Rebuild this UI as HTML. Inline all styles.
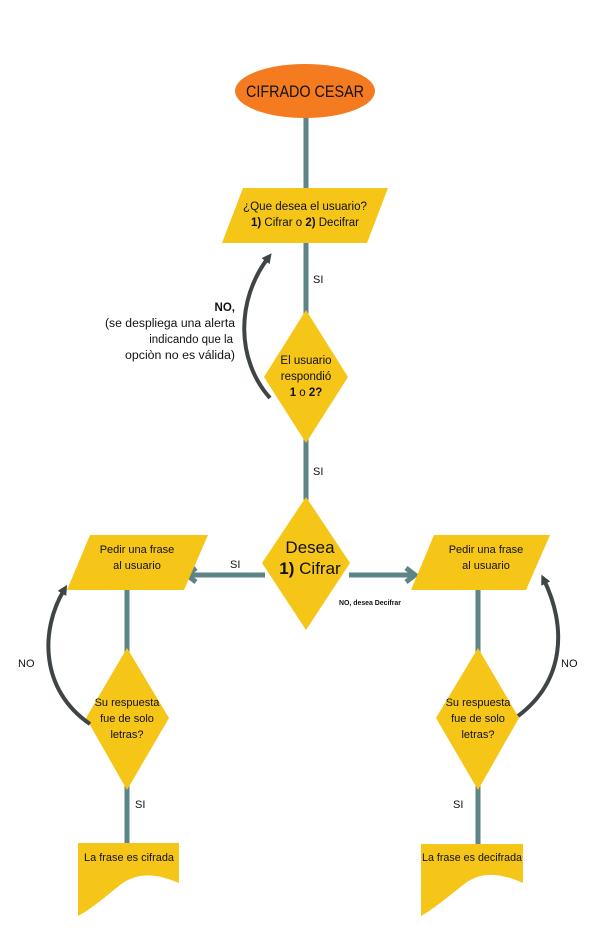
<!DOCTYPE html>
<html><head><meta charset="utf-8"><style>
html,body{margin:0;padding:0;background:#fff;}
svg{display:block;}
text{font-family:"Liberation Sans",sans-serif;fill:#111;}
</style></head><body>
<svg width="612" height="951" viewBox="0 0 612 951">
<defs>
<marker id="ah" markerWidth="10" markerHeight="10" refX="4" refY="5" orient="auto" markerUnits="userSpaceOnUse"><path d="M0,0 L10,5 L0,10 z" fill="#3f4446"/></marker>
</defs>
<g stroke="#5e8585" stroke-width="5" fill="none">
<line x1="306" y1="115" x2="306" y2="500"/>
<line x1="127" y1="588" x2="127" y2="848"/>
<line x1="478" y1="588" x2="478" y2="848"/>
<line x1="265" y1="575" x2="190" y2="575"/>
<line x1="349" y1="575" x2="412" y2="575"/>
<polyline points="196,568 187,575 196,582"/>
<polyline points="406,568 415,575 406,582"/>
</g>
<ellipse cx="305" cy="91" rx="70" ry="27" fill="#f47b20"/>
<text x="305" y="97" font-size="17" text-anchor="middle" textLength="118" lengthAdjust="spacingAndGlyphs">CIFRADO CESAR</text>
<polygon points="243,188 388,188 367,243 222,243" fill="#f5c518"/>
<text x="305" y="210" font-size="11.5" text-anchor="middle" textLength="124" lengthAdjust="spacingAndGlyphs">¿Que desea el usuario?</text>
<text x="305" y="226" font-size="11.5" text-anchor="middle"><tspan font-weight="bold">1)</tspan> Cifrar o <tspan font-weight="bold">2)</tspan> Decifrar</text>
<text x="313" y="283" font-size="11">SI</text>
<polygon points="306,310 348,377 306,443 264,377" fill="#f5c518"/>
<text x="306" y="364" font-size="11.5" text-anchor="middle">El usuario</text>
<text x="306" y="380" font-size="11.5" text-anchor="middle">respondió</text>
<text x="306" y="396" font-size="11.5" text-anchor="middle"><tspan font-weight="bold">1</tspan> o <tspan font-weight="bold">2?</tspan></text>
<text x="313" y="475" font-size="11">SI</text>
<polygon points="306,497 350,563 306,630 262,563" fill="#f5c518"/>
<text x="310" y="553" font-size="17" text-anchor="middle">Desea</text>
<text x="310" y="574" font-size="17" text-anchor="middle"><tspan font-weight="bold">1)</tspan> Cifrar</text>
<text x="230" y="568" font-size="11">SI</text>
<text x="339" y="605" font-size="7" font-weight="bold" textLength="62" lengthAdjust="spacingAndGlyphs">NO, desea Decifrar</text>
<path d="M270,398 C236,360 236,300 268,258" stroke="#3f4446" stroke-width="4" fill="none" marker-end="url(#ah)"/>
<text x="235" y="311" font-size="11.5" text-anchor="end" font-weight="bold">NO,</text>
<text x="235" y="327" font-size="11.5" text-anchor="end" textLength="130" lengthAdjust="spacingAndGlyphs">(se despliega una alerta</text>
<text x="233" y="343" font-size="11.5" text-anchor="end">indicando que la</text>
<text x="235" y="359" font-size="11.5" text-anchor="end" textLength="110" lengthAdjust="spacingAndGlyphs">opciòn no es válida)</text>
<polygon points="90,535 208,535 184,590 67,590" fill="#f5c518"/>
<text x="137" y="553" font-size="11" text-anchor="middle">Pedir una frase</text>
<text x="137" y="569" font-size="11" text-anchor="middle">al usuario</text>
<polygon points="434,535 550,535 526,590 411,590" fill="#f5c518"/>
<text x="486" y="553" font-size="11" text-anchor="middle">Pedir una frase</text>
<text x="486" y="569" font-size="11" text-anchor="middle">al usuario</text>
<polygon points="127,648 169,718 127,790 86,718" fill="#f5c518"/>
<text x="127" y="706" font-size="11" text-anchor="middle">Su respuesta</text>
<text x="127" y="722" font-size="11" text-anchor="middle">fue de solo</text>
<text x="127" y="738" font-size="11" text-anchor="middle">letras?</text>
<polygon points="478,648 519,718 478,790 436,718" fill="#f5c518"/>
<text x="478" y="706" font-size="11" text-anchor="middle">Su respuesta</text>
<text x="478" y="722" font-size="11" text-anchor="middle">fue de solo</text>
<text x="478" y="738" font-size="11" text-anchor="middle">letras?</text>
<path d="M90,724 C40,690 40,630 64,590" stroke="#3f4446" stroke-width="4" fill="none" marker-end="url(#ah)"/>
<path d="M518,716 C566,680 566,625 544,580" stroke="#3f4446" stroke-width="4" fill="none" marker-end="url(#ah)"/>
<text x="18" y="667" font-size="11">NO</text>
<text x="561" y="667" font-size="11">NO</text>
<text x="135" y="808" font-size="11">SI</text>
<text x="453" y="808" font-size="11">SI</text>
<path d="M78,843 L179,843 L179,883 C160,875 140,870 120,885 C105,897 90,910 78,916 Z" fill="#f5c518"/>
<text x="129" y="861" font-size="11" text-anchor="middle" textLength="90" lengthAdjust="spacingAndGlyphs">La frase es cifrada</text>
<path d="M421,844 L523,844 L523,883 C505,875 485,870 467,882 C450,895 435,908 421,916 Z" fill="#f5c518"/>
<text x="472" y="861" font-size="11" text-anchor="middle" textLength="100" lengthAdjust="spacingAndGlyphs">La frase es decifrada</text>
</svg>
</body></html>
